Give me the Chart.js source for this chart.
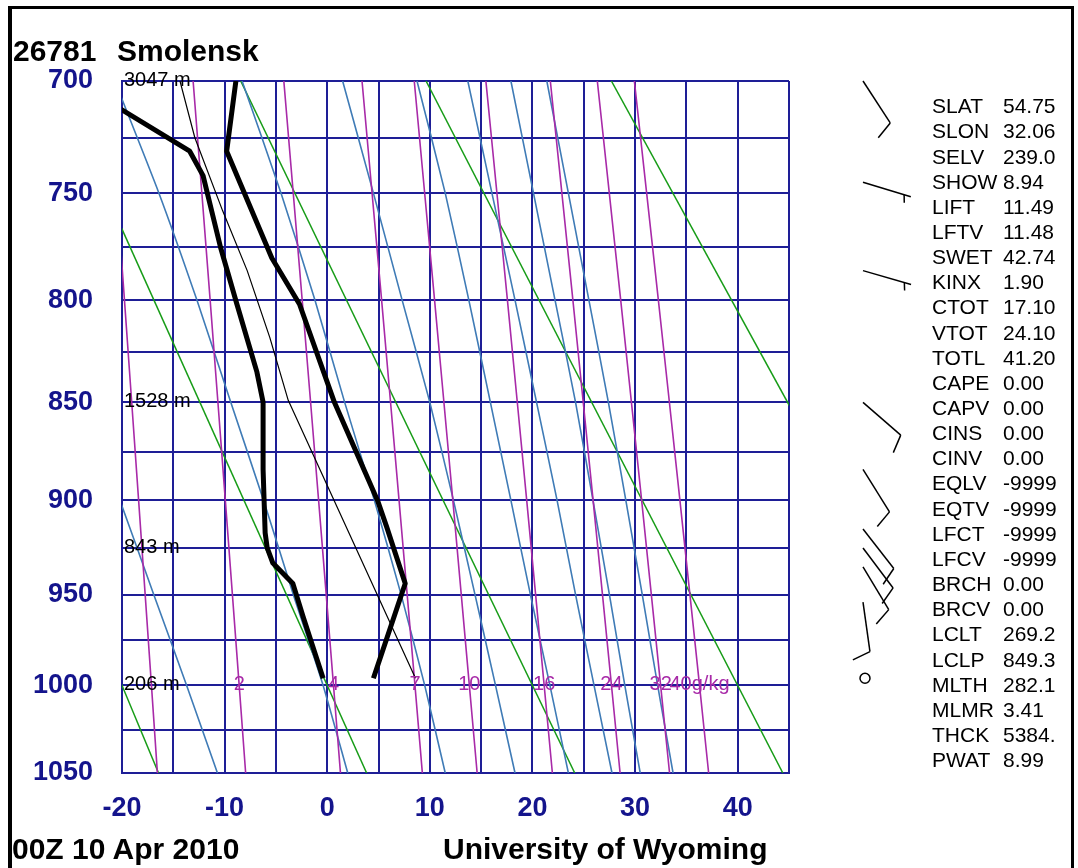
<!DOCTYPE html>
<html><head><meta charset="utf-8">
<script src="https://cdn.jsdelivr.net/npm/chart.js"></script>
<style>
html,body{margin:0;padding:0;background:#fff;overflow:hidden;}
#wrap{position:relative;width:1078px;height:868px;background:#fff;}
#c{position:absolute;left:0;top:0;}
.t{position:absolute;white-space:pre;font-family:"Liberation Sans",Arial,sans-serif;color:#000;}
.bar{position:absolute;background:#000;}
</style></head><body>
<div id="wrap">
<canvas id="c" width="1078" height="868"></canvas>
</div>
<script>
// ---------------- data ----------------
const KAPPA = 0.286;
const pressureTicks = [700,725,750,775,800,825,850,875,900,925,950,975,1000,1025,1050];
const pressureLabels = [700,750,800,850,900,950,1000,1050];
const tempLabels = [-20,-10,0,10,20,30,40];

// observed sounding
const tempP = [700, 731, 780, 802, 850, 900, 914, 944, 996];
const tempT = [-8.9, -9.8, -5.4, -2.7, 0.7, 4.9, 5.8, 7.6, 4.5];
const dewP = [700, 731, 742, 775, 802, 835, 850, 884, 917, 925, 933, 944, 962, 996];
const dewT = [-24.6, -13.4, -12.1, -10.4, -8.8, -6.85, -6.25, -6.25, -6.05, -5.85, -5.3, -3.35, -2.35, -0.4];
// lifted parcel path
const parcelP = [996, 849, 818, 786, 758, 725, 700];
const parcelT = [8.6, -3.8, -5.6, -7.8, -10.2, -12.9, -14.35];

// geopotential heights of standard levels
const heightP = [700, 850, 925, 1000];
const heightText = ['3047 m', '1528 m', '843 m', '206 m'];

// dry adiabats (theta 253..333 K)
const dryLevels = [700, 1050];
const dryT = [
  [-44.55, -16.44],
  [-26.49, 3.84],
  [-8.43, 24.12],
  [9.63, 44.40],
  [27.69, 64.68]
];

// moist adiabats
const moistLevels = [700, 750, 800, 850, 900, 950, 1000, 1050];
const moistT = [
  [null, null, null, -23.8, -20.2, -16.9, -13.7, -10.7],
  [-20.7, -16.4, -12.7, -9.4, -6.2, -3.3, -0.4, 2.0],
  [-8.3, -4.5, -1.2, 1.7, 4.6, 7.2, 9.5, 11.5],
  [1.5, 4.5, 7.3, 10.0, 12.3, 14.4, 16.4, 18.3],
  [8.75, 11.5, 13.8, 15.9, 17.9, 19.8, 21.7, 23.5],
  [13.7, 16.05, 18.3, 20.4, 22.4, 24.2, 26.0, 27.75],
  [17.9, 20.1, 22.2, 24.2, 25.9, 27.5, 29.0, 30.5],
  [21.4, 23.5, 25.5, 27.4, 29.1, 30.7, 32.2, 33.7]
];

// saturation mixing ratio lines (g/kg)
const mixLevels = [700, 800, 900, 1000, 1050];
const mixRatios = [1, 2, 4, 7, 10, 16, 24, 32, 40];
const mixLabels = ['', '2', '4', '7', '10', '16', '24', '32', '40g/kg'];
const mixT = [
  [-21.30, -19.76, -18.38, -17.13, -16.55],
  [-13.07, -11.41, -9.93, -8.58, -7.95],
  [-4.23, -2.44, -0.84, 0.61, 1.29],
  [3.39, 5.30, 7.00, 8.55, 9.27],
  [8.48, 10.46, 12.24, 13.85, 14.61],
  [15.46, 17.56, 19.44, 21.14, 21.94],
  [21.74, 23.94, 25.91, 27.70, 28.54],
  [26.32, 28.60, 30.64, 32.49, 33.36],
  [29.93, 32.27, 34.37, 36.28, 37.17]
];

// winds (deg, knots)
const windP = [700, 745, 786, 850, 884, 915, 925, 935, 954, 996];
const windDir = [147, 107, 106, 131, 148, 142, 143, 149, 172, 0];
const windSpd = [10, 5, 5, 10, 10, 10, 10, 10, 10, 0];

// station indices
const indexNames = ['SLAT','SLON','SELV','SHOW','LIFT','LFTV','SWET','KINX','CTOT','VTOT','TOTL','CAPE','CAPV','CINS','CINV','EQLV','EQTV','LFCT','LFCV','BRCH','BRCV','LCLT','LCLP','MLTH','MLMR','THCK','PWAT'];
const indexValues = ['54.75','32.06','239.0','8.94','11.49','11.48','42.74','1.90','17.10','24.10','41.20','0.00','0.00','0.00','0.00','-9999','-9999','-9999','-9999','0.00','0.00','269.2','849.3','282.1','3.41','5384.','8.99'];

const stationTitle = ['26781', 'Smolensk'];
const footLeft = '00Z 10 Apr 2010';
const footRight = 'University of Wyoming';

// ---------------- styles ----------------
const FONT = '"Liberation Sans", Arial, sans-serif';
const gridColor = '#1e1e96';
const tickColor = '#14148c';
const blueColor = '#3f7bb6';
const purpleColor = '#a82aa8';
const greenColor = '#179c17';

// ---------------- html text ----------------
const wrap = document.getElementById('wrap');
function addText(txt, left, baseline, fs, bold, color) {
  const d = document.createElement('div');
  d.className = 't';
  d.textContent = txt;
  d.style.left = left + 'px';
  d.style.top = (baseline - 0.8465 * fs) + 'px';
  d.style.fontSize = fs + 'px';
  d.style.lineHeight = fs + 'px';
  d.style.fontWeight = bold ? 'bold' : 'normal';
  if (color) d.style.color = color;
  wrap.appendChild(d);
}
function addBar(l, t, w, h) {
  const d = document.createElement('div');
  d.className = 'bar';
  d.style.left = l + 'px'; d.style.top = t + 'px';
  d.style.width = w + 'px'; d.style.height = h + 'px';
  wrap.appendChild(d);
}
addBar(8, 6, 1066, 3);
addBar(8, 6, 4, 862);
addBar(1071, 6, 3, 862);
addText(stationTitle[0], 13, 61, 30, true);
addText(stationTitle[1], 117, 61, 30, true);
addText(footLeft, 12, 859, 30, true);
addText(footRight, 443, 859, 30, true);
indexNames.forEach((n, i) => {
  const base = 113 + i * 25.15;
  addText(n, 932, base, 21, false);
  addText(indexValues[i], 1003, base, 21, false);
});

// ---------------- custom pressure scale (P^kappa) ----------------
class StuveScale extends Chart.LinearScale {
  static id = 'stuve';
  static defaults = {};
  determineDataLimits() {
    this.min = this.options.min;
    this.max = this.options.max;
  }
  buildTicks() {
    return pressureTicks.map(v => ({ value: v }));
  }
  configure() {
    super.configure();
    this._pa = Math.pow(this.min, KAPPA);
    this._pb = Math.pow(this.max, KAPPA);
  }
  getPixelForValue(v) {
    return this.getPixelForDecimal((Math.pow(v, KAPPA) - this._pa) / (this._pb - this._pa));
  }
  getValueForPixel(px) {
    const d = this.getDecimalForPixel(px);
    return Math.pow(this._pa + d * (this._pb - this._pa), 1 / KAPPA);
  }
}
Chart.register(StuveScale);

// ---------------- datasets ----------------
function pts(levels, temps) {
  const out = [];
  levels.forEach((p, i) => { if (temps[i] !== null) out.push({ x: temps[i], y: p }); });
  return out;
}
const datasets = [];
datasets.push({ data: pts(tempP, tempT), borderColor: '#000', borderWidth: 5 });
datasets.push({ data: pts(dewP, dewT), borderColor: '#000', borderWidth: 5 });
datasets.push({ data: pts(parcelP, parcelT), borderColor: '#000', borderWidth: 1.2 });
mixT.forEach(row => datasets.push({ data: pts(mixLevels, row), borderColor: purpleColor, borderWidth: 1.6, tension: 0.2 }));
moistT.forEach(row => datasets.push({ data: pts(moistLevels, row), borderColor: blueColor, borderWidth: 1.6, tension: 0.2 }));
dryT.forEach(row => datasets.push({ data: pts(dryLevels, row), borderColor: greenColor, borderWidth: 1.5 }));
datasets.forEach(d => {
  d.showLine = true; d.pointRadius = 0; d.pointHoverRadius = 0; d.fill = false;
  d.borderJoinStyle = 'round'; d.borderCapStyle = 'butt';
});

// ---------------- overlay plugin (labels, barbs) ----------------
function drawBarb(ctx, x, y, dir, spd) {
  ctx.save();
  ctx.strokeStyle = '#000';
  ctx.lineWidth = 1.5;
  if (spd === 0) {
    ctx.beginPath(); ctx.arc(x + 2, y, 5, 0, Math.PI * 2); ctx.stroke();
    ctx.restore(); return;
  }
  const r = dir * Math.PI / 180;
  const ux = Math.sin(r), uy = -Math.cos(r);
  const L = 50;
  ctx.beginPath();
  ctx.moveTo(x, y); ctx.lineTo(x + ux * L, y + uy * L); ctx.stroke();
  const phi = 72 * Math.PI / 180;
  const fx = ux * Math.cos(phi) - uy * Math.sin(phi);
  const fy = ux * Math.sin(phi) + uy * Math.cos(phi);
  let rem = spd, pos = L;
  while (rem >= 10) {
    const bx = x + ux * pos, by = y + uy * pos;
    ctx.beginPath(); ctx.moveTo(bx, by); ctx.lineTo(bx + fx * 19, by + fy * 19); ctx.stroke();
    pos -= 7; rem -= 10;
  }
  if (rem >= 5) {
    if (pos === L) pos -= 7;
    const bx = x + ux * pos, by = y + uy * pos;
    ctx.beginPath(); ctx.moveTo(bx, by); ctx.lineTo(bx + fx * 8, by + fy * 8); ctx.stroke();
  }
  ctx.restore();
}

const overlay = {
  id: 'overlay',
  afterDatasetsDraw(chart) {
    const ctx = chart.ctx;
    const xs = chart.scales.x, ys = chart.scales.y;
    const area = chart.chartArea;
    ctx.save();
    ctx.font = '20px ' + FONT;
    ctx.textBaseline = 'alphabetic';
    ctx.fillStyle = '#000';
    ctx.textAlign = 'left';
    heightP.forEach((p, i) => {
      ctx.fillText(heightText[i], area.left + 2, ys.getPixelForValue(p) + 5);
    });
    ctx.fillStyle = purpleColor;
    ctx.textAlign = 'center';
    const i1000 = mixLevels.indexOf(1000);
    mixT.forEach((row, i) => {
      if (!mixLabels[i]) return;
      ctx.fillText(mixLabels[i], xs.getPixelForValue(row[i1000]), ys.getPixelForValue(1000) + 5);
    });
    ctx.restore();
    windP.forEach((p, i) => drawBarb(ctx, 863, ys.getPixelForValue(p), windDir[i], windSpd[i]));
  }
};

new Chart(document.getElementById('c'), {
  type: 'scatter',
  data: { datasets },
  plugins: [overlay],
  options: {
    responsive: false,
    animation: false,
    devicePixelRatio: 1,
    events: [],
    layout: { padding: { left: 0, top: 81, right: 289, bottom: 0 } },
    plugins: { legend: { display: false }, tooltip: { enabled: false }, title: { display: false } },
    scales: {
      x: {
        type: 'linear', min: -20, max: 45,
        afterFit: s => { s.height = 95; },
        grid: { color: gridColor, lineWidth: 2, drawTicks: false },
        border: { color: gridColor, width: 2 },
        ticks: {
          stepSize: 5, autoSkip: false, maxRotation: 0, padding: 19,
          color: tickColor, font: { family: FONT, size: 27, weight: 'bold' },
          callback: v => tempLabels.includes(v) ? String(v) : ''
        }
      },
      y: {
        type: 'stuve', min: 700, max: 1050, reverse: true,
        afterFit: s => { s.width = 122; },
        grid: { color: gridColor, lineWidth: 2, drawTicks: false },
        border: { color: gridColor, width: 2 },
        ticks: {
          autoSkip: false, padding: 29,
          color: tickColor, font: { family: FONT, size: 27, weight: 'bold' },
          callback: v => pressureLabels.includes(v) ? String(v) : ''
        }
      }
    }
  }
});
</script>
</body></html>
